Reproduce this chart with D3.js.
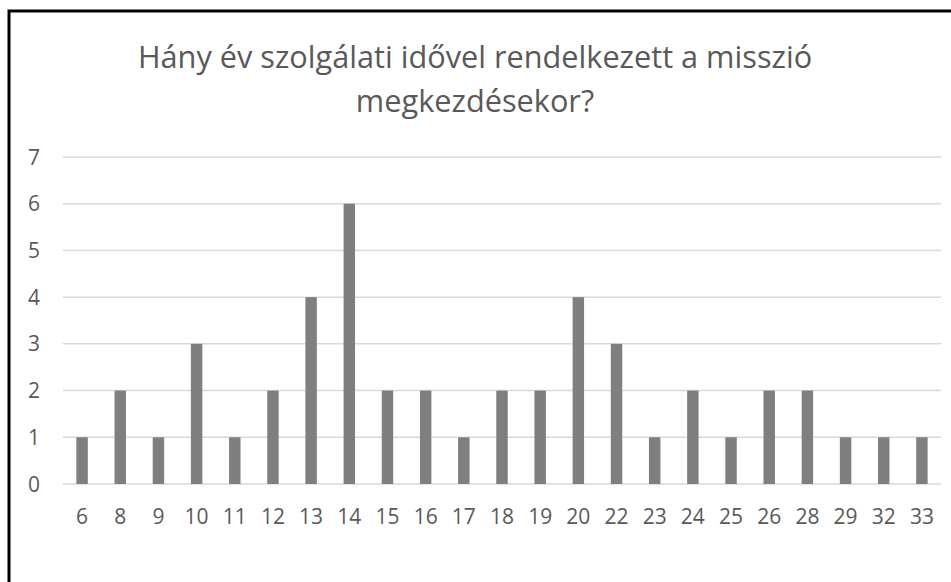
<!DOCTYPE html>
<html>
<head>
<meta charset="utf-8">
<script src="https://cdn.jsdelivr.net/npm/d3@7"></script>
<style>
  body { margin: 0; background: #fff; }
  svg { display: block; }
  text { font-family: "Open Sans", sans-serif; fill: #595959; }
</style>
</head>
<body>
<svg id="chart" width="951" height="582"></svg>
<script>
const years = ["6", "8", "9", "10", "11", "12", "13", "14", "15", "16", "17", "18", "19", "20", "22", "23", "24", "25", "26", "28", "29", "32", "33"];
const counts = [1, 2, 1, 3, 1, 2, 4, 6, 2, 2, 1, 2, 2, 4, 3, 1, 2, 1, 2, 2, 1, 1, 1];
const yTicks = [0, 1, 2, 3, 4, 5, 6, 7];
const titleLines = ["Hány év szolgálati idővel rendelkezett a misszió", "megkezdésekor?"];

const svg = d3.select("#chart");
const width = 951, height = 582;
const plot = { left: 63, right: 941, top: 157, bottom: 484 };

// outer frame (only top and left edges visible in the picture)
svg.append("path")
  .attr("d", `M9,${height} V11 H${width}`)
  .attr("fill", "none")
  .attr("stroke", "#000")
  .attr("stroke-width", 3);

const x = d3.scaleBand()
  .domain(years)
  .range([plot.left, plot.right])
  .paddingInner(0.7)
  .paddingOuter(0.35);

const y = d3.scaleLinear()
  .domain([0, 7])
  .range([plot.bottom, plot.top]);

// gridlines
svg.append("g")
  .selectAll("line")
  .data(yTicks)
  .enter().append("line")
  .attr("x1", plot.left)
  .attr("x2", plot.right)
  .attr("y1", d => y(d))
  .attr("y2", d => y(d))
  .attr("stroke", "#d9d9d9")
  .attr("stroke-width", 1.5);

// y labels
svg.append("g")
  .selectAll("text")
  .data(yTicks)
  .enter().append("text")
  .attr("x", 40)
  .attr("y", d => y(d))
  .attr("dy", "0.36em")
  .attr("text-anchor", "end")
  .style("font-size", "21px")
  .text(d => d);

// bars
svg.append("g")
  .selectAll("rect")
  .data(counts)
  .enter().append("rect")
  .attr("x", (d, i) => x(years[i]))
  .attr("width", x.bandwidth())
  .attr("y", d => y(d))
  .attr("height", d => y(0) - y(d))
  .attr("fill", "#7f7f7f");

// x labels
svg.append("g")
  .selectAll("text")
  .data(years)
  .enter().append("text")
  .attr("x", d => x(d) + x.bandwidth() / 2)
  .attr("y", 524)
  .attr("text-anchor", "middle")
  .style("font-size", "21px")
  .text(d => d);

// title
const title = svg.append("g");
title.selectAll("text")
  .data(titleLines)
  .enter().append("text")
  .attr("x", 475)
  .attr("y", (d, i) => 68 + i * 44)
  .attr("text-anchor", "middle")
  .style("font-size", "30px")
  .text(d => d);

// scale the title font so the first line spans about the same width as the picture
const first = title.select("text").node();
const w = first.getComputedTextLength();
const fs = 30 * 674 / w;
title.selectAll("text").style("font-size", fs.toFixed(1) + "px");
</script>
</body>
</html>
